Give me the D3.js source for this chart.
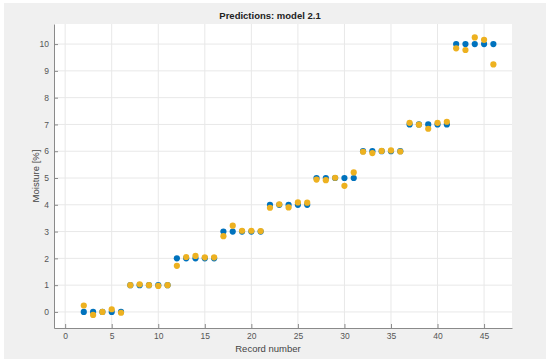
<!DOCTYPE html>
<html>
<head>
<meta charset="utf-8">
<script src="https://cdn.jsdelivr.net/npm/d3@7"></script>
<style>
  body { margin: 0; background: #fff; }
  svg { display: block; font-family: "Liberation Sans", Arial, sans-serif; }
</style>
</head>
<body>
<svg id="chart" width="550" height="363"></svg>
<script>
// record numbers
const records = d3.range(2, 47);
// measured moisture (blue)
const actual = [0,0,0,0,0, 1,1,1,1,1, 2,2,2,2,2, 3,3,3,3,3, 4,4,4,4,4, 5,5,5,5,5, 6,6,6,6,6, 7,7,7,7,7, 10,10,10,10,10];
// predicted moisture (orange)
const predicted = [0.24,-0.11,0.0,0.1,-0.03, 1.0,1.03,1.0,0.97,1.0, 1.72,2.05,2.09,2.04,2.04,
  2.83,3.22,3.03,3.03,3.02, 3.89,4.02,3.9,4.09,4.08, 4.94,4.92,5.01,4.71,5.21,
  5.98,5.93,6.01,6.03,5.99, 7.06,6.99,6.84,7.06,7.1, 9.84,9.78,10.25,10.16,9.24];
const xTicks = [0, 5, 10, 15, 20, 25, 30, 35, 40, 45];
const yTicks = [0, 1, 2, 3, 4, 5, 6, 7, 8, 9, 10];

const svg = d3.select("#chart");
const margin = { top: 24, right: 38, bottom: 35, left: 54 };
const width = 550, height = 363;
const w = width - margin.left - margin.right;
const h = height - margin.top - margin.bottom;

// figure background
svg.append("rect").attr("x", 4).attr("y", 3).attr("width", 542).attr("height", 356).attr("fill", "#f0f0f0");

const g = svg.append("g").attr("transform", "translate(" + margin.left + "," + margin.top + ")");
g.append("rect").attr("width", w).attr("height", h).attr("fill", "#fff");

const x = d3.scaleLinear().domain([-1.2, 48]).range([0, w]);
const y = d3.scaleLinear().domain([-0.6, 10.75]).range([h, 0]);

// grid
g.append("g").selectAll("line").data(xTicks).enter().append("line")
  .attr("x1", d => x(d)).attr("x2", d => x(d)).attr("y1", 0).attr("y2", h)
  .attr("stroke", "#e8e8e8").attr("stroke-width", 1);
g.append("g").selectAll("line").data(yTicks).enter().append("line")
  .attr("y1", d => y(d)).attr("y2", d => y(d)).attr("x1", 0).attr("x2", w)
  .attr("stroke", "#e8e8e8").attr("stroke-width", 1);

// axes
const xAxis = g.append("g").attr("transform", "translate(0," + h + ")")
  .call(d3.axisBottom(x).tickValues(xTicks).tickSizeInner(-4).tickSizeOuter(0).tickPadding(5));
const yAxis = g.append("g")
  .call(d3.axisLeft(y).tickValues(yTicks).tickSizeInner(-4).tickSizeOuter(0).tickPadding(5));
[xAxis, yAxis].forEach(a => {
  a.select(".domain").attr("stroke", "#8a8a8a");
  a.selectAll(".tick line").attr("stroke", "#8a8a8a");
  a.selectAll(".tick text").attr("fill", "#555").attr("font-size", 8.5)
    .attr("font-family", "Liberation Sans, Arial, sans-serif");
});

// points
g.append("g").selectAll("circle").data(records).enter().append("circle")
  .attr("cx", (d) => x(d)).attr("cy", (d, i) => y(actual[i])).attr("r", 3.1)
  .attr("fill", "#0072bd");
g.append("g").selectAll("circle").data(records).enter().append("circle")
  .attr("cx", (d) => x(d)).attr("cy", (d, i) => y(predicted[i])).attr("r", 3.1)
  .attr("fill", "#edb120");

// labels
svg.append("text").attr("x", 270).attr("y", 19).attr("text-anchor", "middle")
  .attr("font-size", 9.5).attr("font-weight", "bold").attr("fill", "#222")
  .text("Predictions: model 2.1");
svg.append("text").attr("x", 268).attr("y", 352).attr("text-anchor", "middle")
  .attr("font-size", 9.5).attr("fill", "#444").text("Record number");
svg.append("text").attr("transform", "translate(39,176) rotate(-90)").attr("text-anchor", "middle")
  .attr("font-size", 9.5).attr("fill", "#444").text("Moisture [%]");
</script>
</body>
</html>
